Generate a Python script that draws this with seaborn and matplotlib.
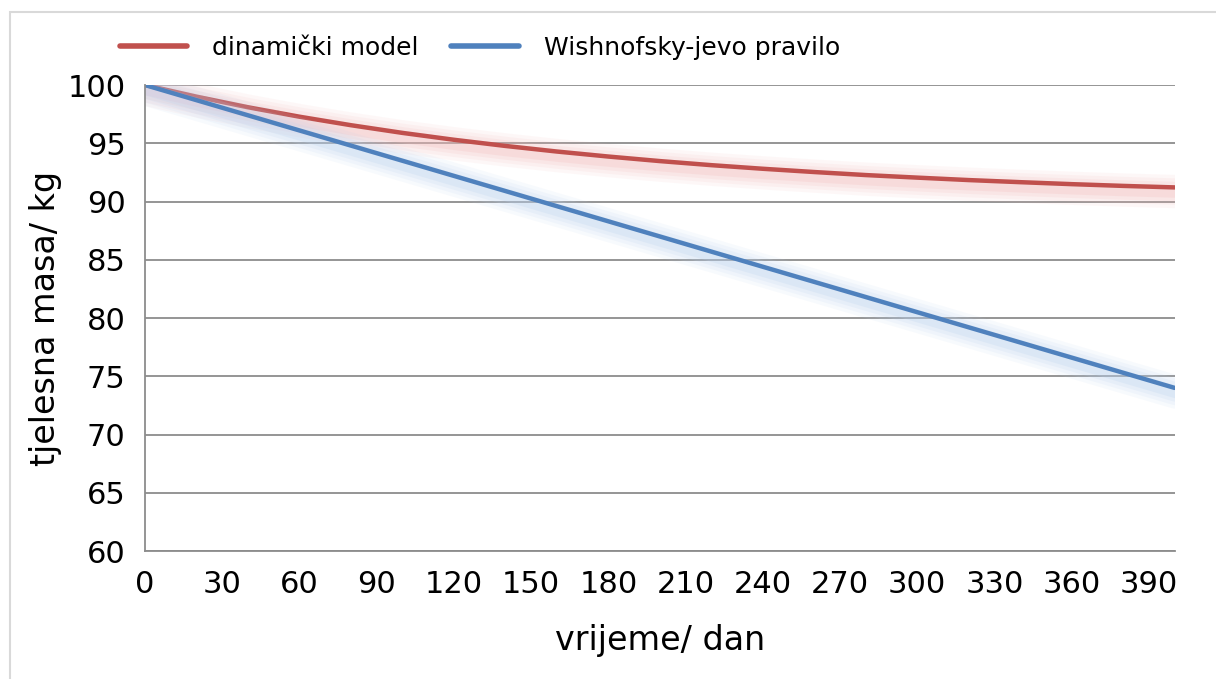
import numpy as np
import pandas as pd
import matplotlib
matplotlib.use("Agg")
import matplotlib.pyplot as plt
import matplotlib.patheffects as pe
import seaborn as sns

# days and body mass (kg)
days = [0, 20, 40, 60, 80, 100, 120, 140, 160, 180, 200,
        220, 240, 260, 280, 300, 320, 340, 360, 380, 400]
dinamicki = [100.0, 99.0, 98.09, 97.28, 96.55, 95.89, 95.30, 94.77, 94.29, 93.86, 93.47,
             93.12, 92.81, 92.53, 92.27, 92.05, 91.84, 91.66, 91.49, 91.34, 91.21]
wishnofsky = [100.0, 98.7, 97.4, 96.1, 94.8, 93.5, 92.2, 90.9, 89.6, 88.3, 87.0,
              85.7, 84.4, 83.1, 81.8, 80.5, 79.2, 77.9, 76.6, 75.3, 74.0]
labels = ["dinamički model", "Wishnofsky-jevo pravilo"]
colors = ["#C0504D", "#4F81BD"]
glow = ["#F4B8B8", "#B8D0EE"]
xticks = list(range(0, 391, 30))
yticks = list(range(60, 101, 5))

df = pd.DataFrame({"dan": days * 2,
                   "masa": dinamicki + wishnofsky,
                   "model": [labels[0]] * len(days) + [labels[1]] * len(days)})

sns.set_style("white")
plt.rcParams['font.family'] = ['DejaVu Sans']
plt.rcParams['text.color'] = 'black'
plt.rcParams['axes.labelcolor'] = 'black'
plt.rcParams['xtick.labelcolor'] = 'black'
plt.rcParams['ytick.labelcolor'] = 'black'

fig = plt.figure(figsize=(12.16, 6.79), dpi=100)
ax = fig.add_axes([0.1192, 0.1885, 0.8468, 0.6863])

sns.lineplot(data=df, x="dan", y="masa", hue="model", palette=colors,
             linewidth=3.2, ax=ax, legend=False)

# soft glow under the lines
for line, gc in zip(ax.get_lines(), glow):
    effects = []
    for lw, a in [(24, 0.10), (19, 0.12), (14, 0.16), (9, 0.22)]:
        effects.append(pe.SimpleLineShadow(offset=(1, -3), shadow_color=gc, alpha=a,
                                           rho=1, linewidth=lw))
    effects.append(pe.Normal())
    line.set_path_effects(effects)

ax.set_xlim(0, 400)
ax.set_ylim(60, 100)
ax.set_xticks(xticks)
ax.set_yticks(yticks)
ax.yaxis.grid(True, color="#8C8C8C", linewidth=1.3)
ax.set_axisbelow(True)
for s in ["top", "right"]:
    ax.spines[s].set_visible(False)
for s in ["left", "bottom"]:
    ax.spines[s].set_color("#8C8C8C")
    ax.spines[s].set_linewidth(1.3)
ax.tick_params(axis="x", direction="out", length=8, width=1.3, color="#8C8C8C",
               labelsize=22, pad=6)
ax.tick_params(axis="y", length=0, labelsize=22, pad=14)
ax.set_xlabel("vrijeme/ dan", fontsize=24, labelpad=18)
ax.set_ylabel("tjelesna masa/ kg", fontsize=24, labelpad=4)

handles = [plt.Line2D([], [], color=c, linewidth=4, solid_capstyle="round") for c in colors]
fig.legend(handles, labels, loc="center left", bbox_to_anchor=(0.08, 0.93), ncol=2,
           frameon=False, fontsize=18, handlelength=2.7, columnspacing=1.3, handletextpad=1.0)

# chart-area border: only left and top edges are inside the picture
fig.patches.append(plt.Rectangle((0.008, -0.05), 1.1, 1.033, transform=fig.transFigure,
                                 fill=False, edgecolor="#D9D9D9", linewidth=1.5))

fig.savefig("out.png", dpi=100)
